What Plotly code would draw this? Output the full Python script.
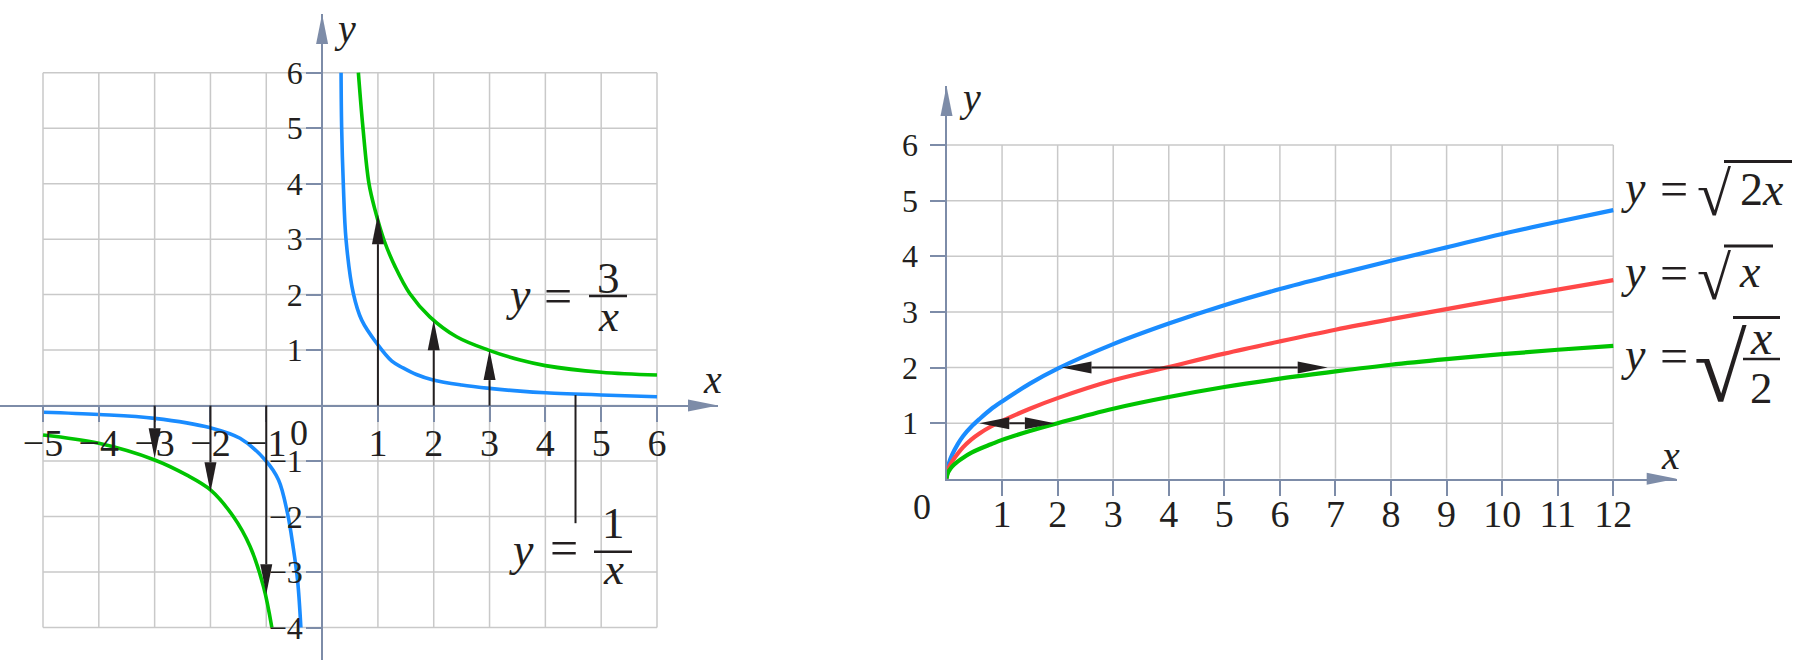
import plotly.graph_objects as go

W, H = 1800, 660

# ---------------- data : left panel  (y = 1/x  and  y = 3/x) ----------------
left_xticks = [-5, -4, -3, -2, -1, 1, 2, 3, 4, 5, 6]
left_yticks = [-4, -3, -2, -1, 1, 2, 3, 4, 5, 6]
left_grid_x = [-5, -4, -3, -2, -1, 0, 1, 2, 3, 4, 5, 6]
left_grid_y = [-4, -3, -2, -1, 0, 1, 2, 3, 4, 5, 6]

blue_pos_x = [0.34, 0.35, 0.38, 0.43, 0.56, 0.71, 0.98, 1.25, 1.45, 1.69, 1.99, 2.5, 3.0, 3.55, 4.0, 5.0, 6.0]
blue_pos_y = [6.0, 5.03, 4.0, 2.98, 2.02, 1.54, 1.12, 0.80, 0.68, 0.56, 0.46, 0.37, 0.31, 0.26, 0.23, 0.19, 0.16]
blue_neg_x = [-5.0, -4.0, -3.0, -2.0, -1.47, -1.02, -0.78, -0.62, -0.52, -0.44, -0.38]
blue_neg_y = [-0.12, -0.16, -0.23, -0.40, -0.59, -0.98, -1.34, -1.94, -2.54, -3.14, -4.0]

green_pos_x = [0.65, 0.73, 0.84, 0.95, 1.11, 1.31, 1.57, 1.93, 2.41, 2.98, 3.55, 4.0, 5.0, 6.0]
green_pos_y = [6.0, 5.03, 4.0, 3.52, 2.98, 2.50, 2.02, 1.60, 1.24, 1.0, 0.82, 0.72, 0.60, 0.55]
green_neg_x = [-5.0, -4.0, -3.0, -2.43, -2.0, -1.59, -1.29, -1.05, -0.90]
green_neg_y = [-0.53, -0.68, -0.98, -1.25, -1.52, -2.0, -2.54, -3.26, -4.0]

up_arrow_x = [1, 2, 3]
up_arrow_tip = [3.45, 1.54, 1.0]
down_arrow_x = [-3, -2, -1]
down_arrow_tip = [-0.95, -1.56, -3.40]
leader_x = 4.54
leader_y = [0.19, -2.12]

# ---------------- data : right panel  (square roots) ----------------
right_xticks = [1, 2, 3, 4, 5, 6, 7, 8, 9, 10, 11, 12]
right_yticks = [1, 2, 3, 4, 5, 6]

root_x = [0, 0.02, 0.05, 0.1, 0.2, 0.3, 0.45, 0.6, 0.8, 1, 1.5, 2, 3, 4, 5, 6, 7, 8, 9, 10, 11, 12]
root2x_y = [0, 0.19, 0.30, 0.43, 0.62, 0.77, 0.94, 1.08, 1.25, 1.39, 1.71, 1.98, 2.42, 2.79, 3.12,
            3.41, 3.67, 3.92, 4.16, 4.40, 4.62, 4.83]
rootx_y = [0, 0.13, 0.22, 0.31, 0.45, 0.57, 0.71, 0.82, 0.94, 1.04, 1.26, 1.45, 1.77, 2.01, 2.25,
           2.47, 2.68, 2.87, 3.05, 3.23, 3.40, 3.57]
roothalf_y = [0, 0.09, 0.15, 0.22, 0.31, 0.38, 0.47, 0.54, 0.62, 0.70, 0.86, 1.0, 1.26, 1.47, 1.65,
              1.80, 1.93, 2.05, 2.15, 2.24, 2.32, 2.39]

hz_arrows = [  # (y, x_left_tip, x_right_tip)
    (2, 2.07, 6.86),
    (1, 0.59, 1.95),
]

# ---------------- style ----------------
AX = "#7d8ca8"
GRID = "#c9c9c9"
INK = "#231f20"
BLUE = "#1a8cff"
GREEN = "#00c400"
RED = "#ff4848"
FONT = "Liberation Serif"


def lin(d0, p0, d1, p1):
    s = (p1 - p0) / (d1 - d0)
    return s, p0 - s * d0


# pixel calibration of each panel (data -> px)
Lsx, Lcx = lin(-5, 43, 6, 657)
Lsy, Lcy = lin(6, 72.7, -4, 627.5)
Rsx, Rcx = lin(0, 946.5, 12, 1613.3)
Rsy, Rcy = lin(0, 478.8, 6, 145)

L_dom_x = (0, 718)
L_dom_y = (14, 660)
R_dom_x = (Rcx, 1676.7)
R_dom_y = (86, Rcy)


def d(px, s, c):
    return (px - c) / s


def PX(x):
    return x / W


def PY(y):
    return 1 - y / H


fig = go.Figure()

for xs, ys, col in [(blue_pos_x, blue_pos_y, BLUE), (blue_neg_x, blue_neg_y, BLUE),
                    (green_pos_x, green_pos_y, GREEN), (green_neg_x, green_neg_y, GREEN)]:
    fig.add_trace(go.Scatter(x=xs, y=ys, mode="lines",
                             line=dict(color=col, width=3.6, shape="spline", smoothing=1.0),
                             xaxis="x", yaxis="y", hoverinfo="skip", showlegend=False))
for ys, col in [(root2x_y, BLUE), (rootx_y, RED), (roothalf_y, GREEN)]:
    fig.add_trace(go.Scatter(x=root_x, y=ys, mode="lines",
                             line=dict(color=col, width=4.2, shape="spline", smoothing=1.0),
                             xaxis="x2", yaxis="y2", hoverinfo="skip", showlegend=False))

shapes = []
# grid lines
for gx in left_grid_x:
    shapes.append(dict(type="line", xref="x", yref="y", x0=gx, x1=gx, y0=min(left_grid_y), y1=max(left_grid_y),
                       line=dict(color=GRID, width=1.5), layer="below"))
for gy in left_grid_y:
    shapes.append(dict(type="line", xref="x", yref="y", y0=gy, y1=gy, x0=min(left_grid_x), x1=max(left_grid_x),
                       line=dict(color=GRID, width=1.5), layer="below"))
for gx in right_xticks:
    shapes.append(dict(type="line", xref="x2", yref="y2", x0=gx, x1=gx, y0=0, y1=max(right_yticks),
                       line=dict(color=GRID, width=1.5), layer="below"))
for gy in right_yticks:
    shapes.append(dict(type="line", xref="x2", yref="y2", y0=gy, y1=gy, x0=0, x1=max(right_xticks),
                       line=dict(color=GRID, width=1.5), layer="below"))


def head_data(tx, ty, dx, dy, L, Wd, sx, sy, xref, yref, color):
    # dx, dy: direction in screen pixels (dy>0 = upward)
    ax_, ay_ = abs(sx), abs(sy)
    bx, by = tx - dx * L / ax_, ty - dy * L / ay_
    p1 = (bx - dy * Wd / 2 / ax_, by + dx * Wd / 2 / ay_)
    p2 = (bx + dy * Wd / 2 / ax_, by - dx * Wd / 2 / ay_)
    path = f"M{tx},{ty} L{p1[0]},{p1[1]} L{p2[0]},{p2[1]} Z"
    return dict(type="path", xref=xref, yref=yref, path=path, fillcolor=color,
                line=dict(width=0), layer="above"), (bx, by)


HL, HW = 30, 12
# vertical arrows, left panel
for xv, tip in zip(up_arrow_x, up_arrow_tip):
    h, (bx, by) = head_data(xv, tip, 0, 1, HL, HW, Lsx, Lsy, "x", "y", INK)
    shapes.append(h)
    shapes.append(dict(type="line", xref="x", yref="y", x0=xv, x1=xv, y0=0, y1=by,
                       line=dict(color=INK, width=2), layer="above"))
for xv, tip in zip(down_arrow_x, down_arrow_tip):
    h, (bx, by) = head_data(xv, tip, 0, -1, HL, HW, Lsx, Lsy, "x", "y", INK)
    shapes.append(h)
    shapes.append(dict(type="line", xref="x", yref="y", x0=xv, x1=xv, y0=0, y1=by,
                       line=dict(color=INK, width=2), layer="above"))
shapes.append(dict(type="line", xref="x", yref="y", x0=leader_x, x1=leader_x, y0=leader_y[0], y1=leader_y[1],
                   line=dict(color=INK, width=2), layer="above"))

# horizontal double arrows, right panel
for yv, xl, xr in hz_arrows:
    h1, (b1, _) = head_data(xl, yv, -1, 0, HL, HW, Rsx, Rsy, "x2", "y2", INK)
    h2, (b2, _) = head_data(xr, yv, 1, 0, HL, HW, Rsx, Rsy, "x2", "y2", INK)
    shapes += [h1, h2]
    shapes.append(dict(type="line", xref="x2", yref="y2", x0=b1, x1=b2, y0=yv, y1=yv,
                       line=dict(color=INK, width=2), layer="above"))


# axis arrow heads (paper coordinates)
def head_px(tx, ty, dx, dy, L=30, Wd=12, color=AX):
    bx, by = tx - dx * L, ty - dy * L
    p1 = (bx - dy * Wd / 2, by - dx * Wd / 2)
    p2 = (bx + dy * Wd / 2, by + dx * Wd / 2)
    pts = [(tx, ty), p1, p2]
    path = "M" + " L".join(f"{PX(a)},{PY(b)}" for a, b in pts) + " Z"
    return dict(type="path", xref="paper", yref="paper", path=path, fillcolor=color,
                line=dict(width=0), layer="above")


shapes.append(head_px(L_dom_x[1], Lcy, 1, 0))
shapes.append(head_px(Lcx, L_dom_y[0], 0, -1))
shapes.append(head_px(R_dom_x[1], Rcy, 1, 0))
shapes.append(head_px(Rcx, R_dom_y[0], 0, -1))


# fraction bars and radical overlines (paper coords from px)
def hbar(x0, x1, y, w=2.6):
    return dict(type="line", xref="paper", yref="paper", x0=PX(x0), x1=PX(x1), y0=PY(y), y1=PY(y),
                line=dict(color=INK, width=w), layer="above")


shapes += [hbar(589, 627, 296), hbar(594, 632, 551.7),
           hbar(1724, 1792, 161.5, 3), hbar(1724, 1773, 246, 3), hbar(1733, 1780, 317.5, 3),
           hbar(1743, 1780, 359)]

ann = []


def txt(s, x, y, size, italic=False):
    t = f"<i>{s}</i>" if italic else s
    ann.append(dict(text=t, x=PX(x), y=PY(y), xref="paper", yref="paper", showarrow=False,
                    xanchor="center", yanchor="middle", font=dict(family=FONT, size=size, color=INK)))


# axis names and origin labels
txt("y", 345, 28, 40, True)
txt("x", 712, 379, 40, True)
txt("0", 299, 433, 36)
txt("y", 970, 98, 40, True)
txt("x", 1670, 455, 40, True)
txt("0", 922.5, 507, 36)

# y = 3/x
txt("y", 518, 294.5, 46, True)
txt("=", 558, 296, 50)
txt("3", 608, 278, 45)
txt("x", 608, 316, 45, True)
# y = 1/x
txt("y", 521.5, 549.5, 46, True)
txt("=", 564, 548, 50)
txt("1", 613, 523, 45)
txt("x", 613, 569, 45, True)

# y = sqrt(2x)
txt("y", 1633, 187.5, 46, True)
txt("=", 1674, 189, 50)
txt("√", 1714, 194, 62)
txt("2<i>x</i>", 1762, 190, 46)
# y = sqrt(x)
txt("y", 1633, 271.5, 46, True)
txt("=", 1674, 273, 50)
txt("√", 1714, 278, 62)
txt("x", 1750, 271.5, 46, True)
# y = sqrt(x/2)
txt("y", 1633, 354.5, 46, True)
txt("=", 1674, 356, 50)
txt("√", 1720, 368, 96)
txt("x", 1761, 337, 48, True)
txt("2", 1761, 388, 45)

tick_common = dict(showline=True, linewidth=2, linecolor=AX, ticks="outside", ticklen=15, tickwidth=2,
                   tickcolor=AX, showgrid=False, zeroline=False, tickmode="array", fixedrange=True)


def minus(v):
    return str(v).replace("-", "\u2212")


fig.update_layout(
    width=W, height=H, margin=dict(l=0, r=0, t=0, b=0),
    paper_bgcolor="white", plot_bgcolor="rgba(0,0,0,0)",
    showlegend=False,
    xaxis=dict(domain=[PX(L_dom_x[0]), PX(L_dom_x[1])],
               range=[d(L_dom_x[0], Lsx, Lcx), d(L_dom_x[1], Lsx, Lcx)],
               anchor="free", position=PY(Lcy),
               tickvals=left_xticks, ticktext=[minus(v) for v in left_xticks],
               tickfont=dict(family=FONT, size=38, color=INK), ticklabelstandoff=-11, **tick_common),
    yaxis=dict(domain=[PY(L_dom_y[1]), PY(L_dom_y[0])],
               range=[d(L_dom_y[1], Lsy, Lcy), d(L_dom_y[0], Lsy, Lcy)],
               anchor="free", position=PX(Lcx),
               tickvals=left_yticks, ticktext=[minus(v) for v in left_yticks],
               tickfont=dict(family=FONT, size=32, color=INK), ticklabelstandoff=-3, **tick_common),
    xaxis2=dict(domain=[PX(R_dom_x[0]), PX(R_dom_x[1])],
                range=[0, d(R_dom_x[1], Rsx, Rcx)], anchor="y2",
                tickvals=right_xticks, ticktext=[str(v) for v in right_xticks],
                tickfont=dict(family=FONT, size=38, color=INK), ticklabelstandoff=-14, **tick_common),
    yaxis2=dict(domain=[PY(R_dom_y[1]), PY(R_dom_y[0])],
                range=[0, d(R_dom_y[0], Rsy, Rcy)], anchor="x2",
                tickvals=right_yticks, ticktext=[str(v) for v in right_yticks],
                tickfont=dict(family=FONT, size=32, color=INK), ticklabelstandoff=5, **tick_common),
    shapes=shapes, annotations=ann,
)

fig.write_html("out.html")
